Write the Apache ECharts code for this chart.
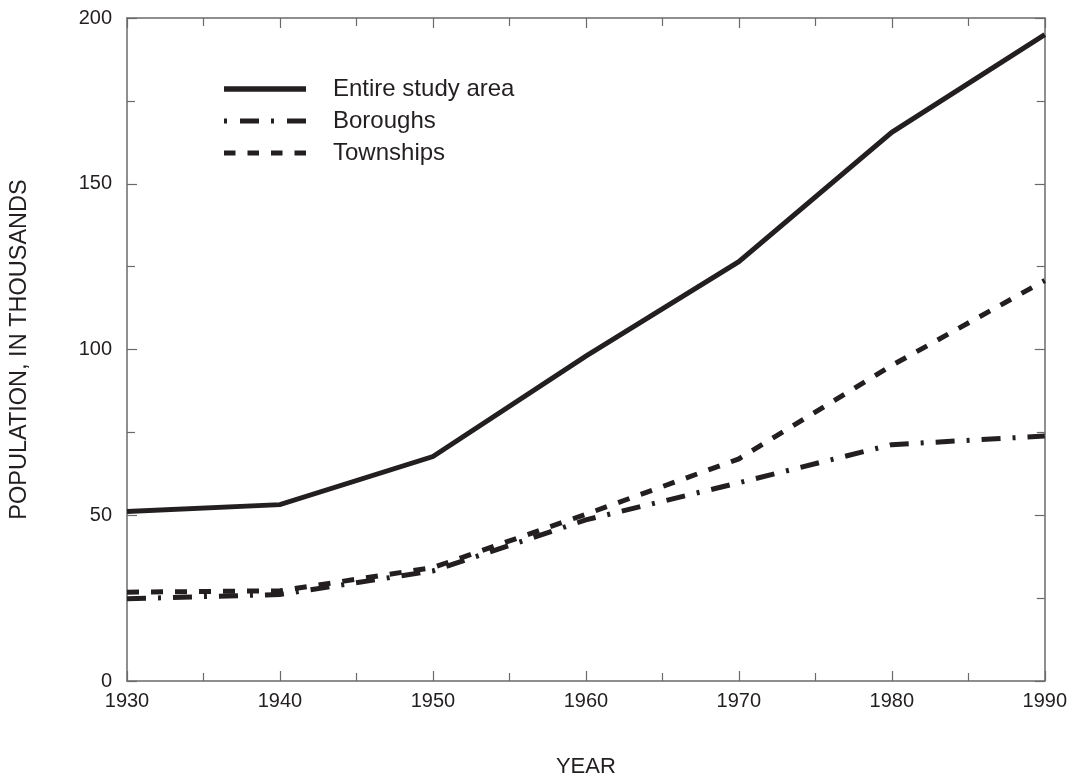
<!DOCTYPE html>
<html>
<head>
<meta charset="utf-8">
<script src="https://cdn.jsdelivr.net/npm/echarts@6/dist/echarts.min.js"></script>
<style>
  html, body { margin: 0; padding: 0; background: #fff; overflow: hidden; }
  #chart { width: 1070px; height: 783px; }
</style>
</head>
<body>
<div id="chart"></div>
<script>
// Population by decade, in thousands
const years = [1930, 1940, 1950, 1960, 1970, 1980, 1990];
const entireStudyArea = [51.1, 53.2, 67.7, 98.0, 126.5, 165.5, 195.0];
const boroughs = [24.8, 26.1, 33.2, 48.6, 59.8, 71.3, 73.9];
const townships = [26.8, 27.2, 34.2, 50.3, 67.0, 95.2, 120.8];

const seriesNames = ['Entire study area', 'Boroughs', 'Townships'];
const xTitle = 'YEAR';
const yTitle = 'POPULATION, IN THOUSANDS';

const ink = '#231f20';
const axisGrey = '#6a6a6a';
const font = '"Liberation Sans", Arial, Helvetica, sans-serif';

// line dash patterns shared by the series and the key
const dashes = {
  solid: 'solid',
  dashDot: [19, 12, 3, 12],
  dashed: [12, 12]
};

function pairs(vals) {
  return years.map((y, i) => [y, vals[i]]);
}

function xAxisDef(pos, showLabels) {
  return {
    type: 'value', position: pos, min: 1930, max: 1990, interval: 10,
    axisLine: { show: true, onZero: false, lineStyle: { color: axisGrey, width: 1.5 } },
    axisTick: { show: true, inside: true, length: 10, lineStyle: { color: axisGrey, width: 1.2 } },
    minorTick: { show: true, splitNumber: 2, length: 8, lineStyle: { color: axisGrey, width: 1.2 } },
    splitLine: { show: false },
    axisLabel: {
      show: showLabels, color: ink, fontFamily: font, fontSize: 20, margin: 10,
      formatter: v => String(v)
    },
    name: showLabels ? xTitle : '',
    nameLocation: 'middle', nameGap: 75,
    nameTextStyle: { color: ink, fontFamily: font, fontSize: 22 }
  };
}

function yAxisDef(pos, showLabels) {
  return {
    type: 'value', position: pos, min: 0, max: 200, interval: 50,
    axisLine: { show: true, onZero: false, lineStyle: { color: axisGrey, width: 1.5 } },
    axisTick: { show: true, inside: true, length: 10, lineStyle: { color: axisGrey, width: 1.2 } },
    minorTick: { show: true, splitNumber: 2, length: 8, lineStyle: { color: axisGrey, width: 1.2 } },
    splitLine: { show: false },
    axisLabel: { show: showLabels, color: ink, fontFamily: font, fontSize: 20, margin: 15 },
    name: showLabels ? yTitle : '',
    nameLocation: 'middle', nameGap: 95,
    nameTextStyle: { color: ink, fontFamily: font, fontSize: 23.5 }
  };
}

function lineSeries(name, vals, type, width) {
  return {
    name: name, type: 'line', data: pairs(vals),
    symbol: 'none', silent: true, animation: false,
    lineStyle: { color: ink, width: width, type: type, cap: 'butt', join: 'miter' }
  };
}

// Hand-drawn key in the upper left of the plot
const keyX0 = 224, keyX1 = 306, keyTextX = 333, keyY = [89, 121, 153];
const keyDash = [null, [3, 13, 19, 12], [11.5, 12]];
const keyWidths = [5.5, 5, 5];
const keyGraphics = [];
seriesNames.forEach((n, i) => {
  keyGraphics.push({
    type: 'line', silent: true,
    shape: { x1: keyX0, y1: keyY[i], x2: keyX1, y2: keyY[i] },
    style: { stroke: ink, lineWidth: keyWidths[i], lineCap: 'butt', lineDash: keyDash[i] }
  });
  keyGraphics.push({
    type: 'text', silent: true, x: keyTextX, y: keyY[i],
    style: { text: n, fill: ink, font: '24px ' + font, textVerticalAlign: 'middle', verticalAlign: 'middle' }
  });
});

const chart = echarts.init(document.getElementById('chart'), null, { renderer: 'canvas' });
chart.setOption({
  backgroundColor: '#ffffff',
  animation: false,
  grid: { left: 124, right: 23, top: 18, bottom: 92, containLabel: false },
  xAxis: [xAxisDef('bottom', true), xAxisDef('top', false)],
  yAxis: [yAxisDef('left', true), yAxisDef('right', false)],
  series: [
    lineSeries(seriesNames[0], entireStudyArea, dashes.solid, 5),
    lineSeries(seriesNames[1], boroughs, dashes.dashDot, 5),
    lineSeries(seriesNames[2], townships, dashes.dashed, 5)
  ],
  graphic: keyGraphics
});
</script>
</body>
</html>
